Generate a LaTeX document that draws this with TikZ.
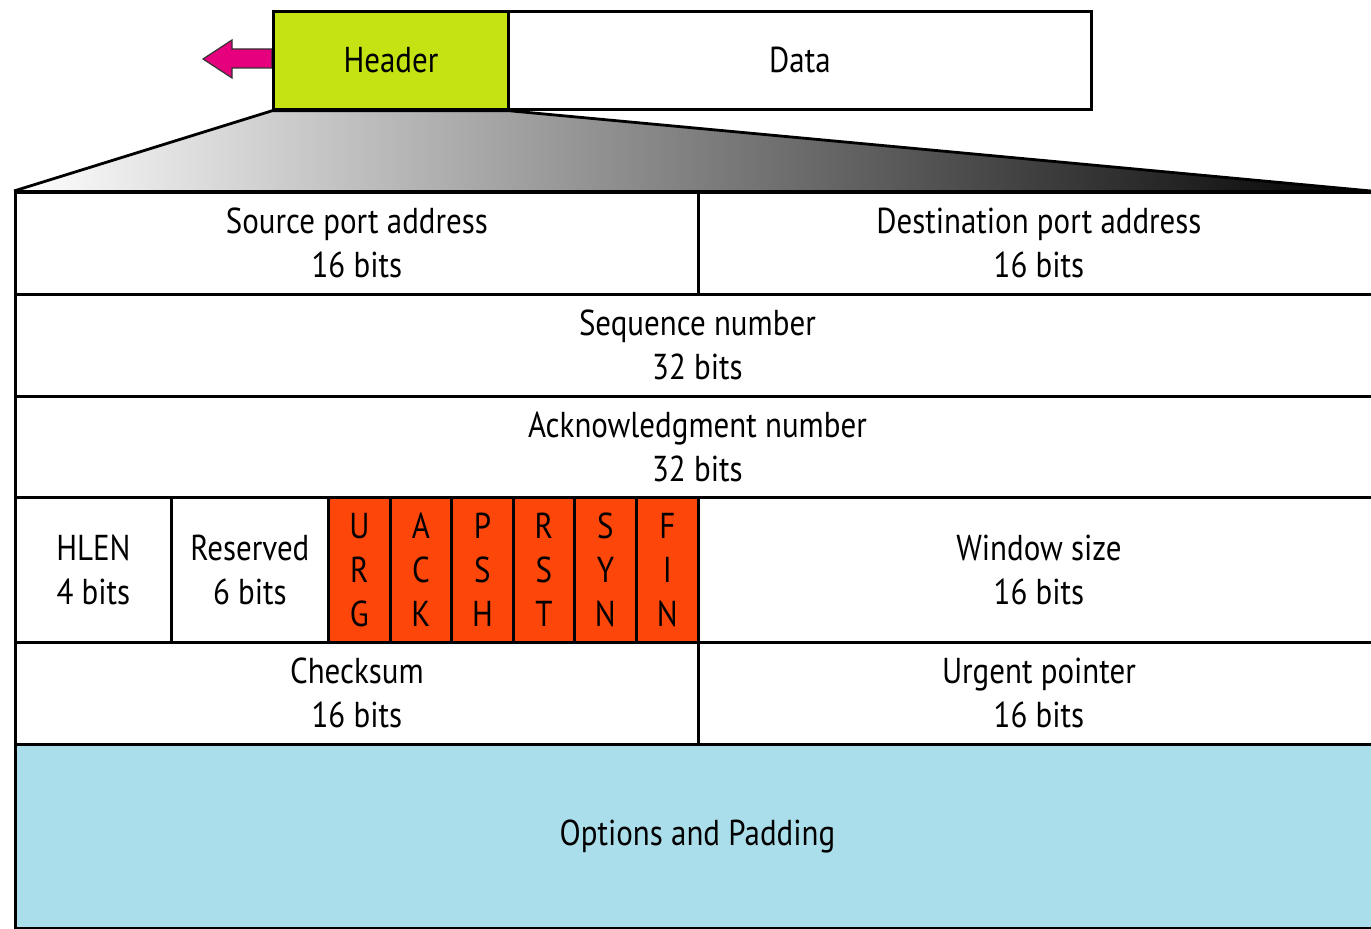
\documentclass[tikz,border=0pt]{standalone}
\usepackage{fontspec}
\usetikzlibrary{calc}
\setmainfont{PT Sans}[FakeStretch=0.86]
\definecolor{hdrgreen}{RGB}{197,226,18}
\definecolor{flagred}{RGB}{252,70,10}
\definecolor{optblue}{RGB}{171,222,235}
\definecolor{arrowpink}{RGB}{230,0,126}
% a field of the header: name, left, top, right, bottom, fill, text
\newcommand\fieldnode[7]{%
  \node[field, fill=#6, minimum width={(#4-#2)*0.5pt},
        minimum height={(#5-#3)*0.5pt}] (#1) at (#2,#3) {#7};}
\begin{document}
\begin{tikzpicture}[x=0.5pt,y=-0.5pt,
  field/.style={draw=black, line width=1.4pt, anchor=north west,
    inner sep=0pt, align=center, font=\fontsize{18}{22}\selectfont}]
\useasboundingbox (0,0) rectangle (1371,929);

% arrow leaving the header, drawn first so the header covers its tail
\coordinate (hdrW) at (272,59);
\filldraw[fill=arrowpink, draw=black!80, line width=0.6pt]
  ($(hdrW)+(0,-10)$) -- ++(-40,0) -- ++(0,-9) -- ++(-29,19)
  -- ++(29,19) -- ++(0,-10) -- ++(40,0) -- cycle;

% segment: header and data
\fieldnode{hdr}{272}{10}{507}{108}{hdrgreen}{Header}
\fieldnode{data}{507}{10}{1090}{108}{white}{Data}

% header fields
\fieldnode{src}{14}{191}{697}{293}{white}{Source port address\\16 bits}
\fieldnode{dst}{697}{191}{1378}{293}{white}{Destination port address\\16 bits}
\fieldnode{seq}{14}{293}{1378}{395}{white}{Sequence number\\32 bits}
\fieldnode{ack}{14}{395}{1378}{496}{white}{Acknowledgment number\\32 bits}
\fieldnode{hlen}{14}{496}{170}{641}{white}{HLEN\\4 bits}
\fieldnode{res}{170}{496}{327}{641}{white}{Reserved\\6 bits}
\fieldnode{urg}{327}{496}{389}{641}{flagred}{U\\R\\G}
\fieldnode{ackf}{389}{496}{450}{641}{flagred}{A\\C\\K}
\fieldnode{psh}{450}{496}{512}{641}{flagred}{P\\S\\H}
\fieldnode{rst}{512}{496}{573}{641}{flagred}{R\\S\\T}
\fieldnode{syn}{573}{496}{635}{641}{flagred}{S\\Y\\N}
\fieldnode{fin}{635}{496}{697}{641}{flagred}{F\\I\\N}
\fieldnode{win}{697}{496}{1378}{641}{white}{Window size\\16 bits}
\fieldnode{chk}{14}{641}{697}{743}{white}{Checksum\\16 bits}
\fieldnode{urgp}{697}{641}{1378}{743}{white}{Urgent pointer\\16 bits}
\fieldnode{opt}{14}{743}{1378}{927}{optblue}{Options and Padding}

% fan-out from the header to the field layout
\coordinate (fanright) at (1371,191);
\shade[left color=white, right color=black]
  (hdr.south west) -- (hdr.south east) -- (fanright) -- (src.north west) -- cycle;
\draw[line width=1.4pt] (src.north west) -- (hdr.south west) -- (hdr.south east) -- (fanright);
\draw[line width=1.4pt] (src.north west) -- (dst.north east);
\end{tikzpicture}
\end{document}
